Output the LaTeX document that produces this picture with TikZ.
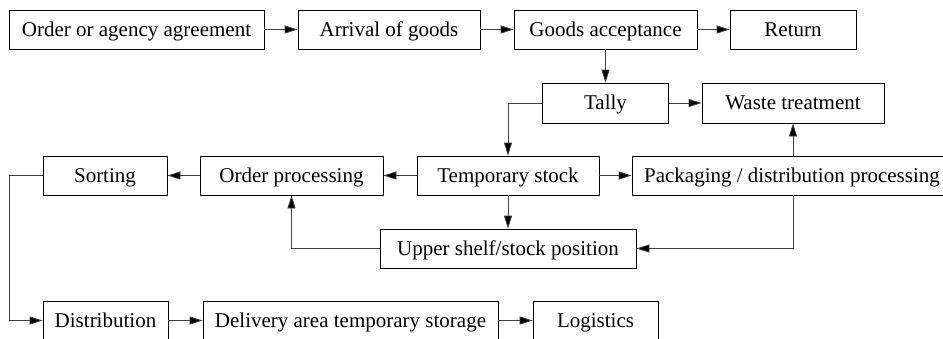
\documentclass[tikz,border=0pt]{standalone}
\usepackage{fontspec}
\setmainfont{Liberation Serif}
\usetikzlibrary{arrows.meta}
\begin{document}
\begin{tikzpicture}[x=1pt,y=-1pt,
  box/.style={draw=black, line width=0.8pt, inner sep=0pt, minimum height=39pt,
    text height=16pt, text depth=3pt,
    font=\fontsize{21}{24}\selectfont},
  arr/.style={draw=black!75, line width=0.8pt, -{Triangle[length=13pt,width=8pt,fill=black]}}]
\useasboundingbox (0,0) rectangle (943,338);
\clip (0,0) rectangle (943,338);
% row 1
\node[box, minimum width=255pt] (a) at (136.5,29.5) {Order or agency agreement};
\node[box, minimum width=182pt] (b) at (389,29.5) {Arrival of goods};
\node[box, minimum width=183pt] (c) at (605.5,29.5) {Goods acceptance};
\node[box, minimum width=126pt] (d) at (793,29.5) {Return};
% row 2
\node[box, minimum width=126pt, minimum height=40pt] (tally) at (605.5,103) {Tally};
\node[box, minimum width=182pt, minimum height=40pt] (waste) at (793,103) {Waste treatment};
% row 3
\node[box, minimum width=124pt] (sort) at (105,175.5) {Sorting};
\node[box, minimum width=183pt] (order) at (291.5,175.5) {Order processing};
\node[box, minimum width=182pt] (temp) at (508,175.5) {Temporary stock};
\node[box, minimum width=320pt] (pack) at (792,175.5) {Packaging / distribution processing};
% row 4
\node[box, minimum width=256pt] (shelf) at (508,248.5) {Upper shelf/stock position};
% row 5
\node[box, minimum width=125pt] (dist) at (105.5,320.5) {Distribution};
\node[box, minimum width=295pt] (deliv) at (350.5,320.5) {Delivery area temporary storage};
\node[box, minimum width=125pt] (log) at (595.5,320.5) {Logistics};
\coordinate (lft) at (9,175.5);
% connectors
\draw[arr] (a) -- (b);
\draw[arr] (b) -- (c);
\draw[arr] (c) -- (d);
\draw[arr] (c) -- (tally);
\draw[arr] (tally) -- (waste);
\draw[arr] (tally.west) -| (temp.north);
\draw[arr] (temp) -- (order);
\draw[arr] (order) -- (sort);
\draw[arr] (temp) -- (pack);
\draw[arr] (temp) -- (shelf);
\draw[arr] (waste.south |- pack.south) |- (shelf.east);
\draw[arr] (waste.south |- pack.north) -- (waste.south);
\draw[arr] (shelf.west) -| (order.south);
\draw[arr] (sort.west) -- (lft) |- (dist.west);
\draw[arr] (dist) -- (deliv);
\draw[arr] (deliv) -- (log);
\end{tikzpicture}
\end{document}
